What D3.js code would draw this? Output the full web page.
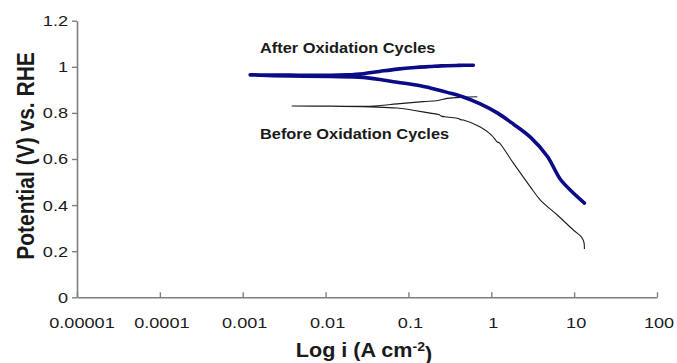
<!DOCTYPE html>
<html>
<head>
<meta charset="utf-8">
<script src="https://cdn.jsdelivr.net/npm/d3@7/dist/d3.min.js"></script>
<style>
  html, body { margin: 0; padding: 0; background: #fff; }
  svg { display: block; }
  text { font-family: "Liberation Sans", Arial, sans-serif; fill: #1a1a1a; }
</style>
</head>
<body>
<svg id="chart" width="677" height="363"></svg>
<script>
// ---- data ----
const xTickValues = [0.00001, 0.0001, 0.001, 0.01, 0.1, 1, 10, 100];
const xTickLabels = ["0.00001", "0.0001", "0.001", "0.01", "0.1", "1", "10", "100"];
const yTickValues = [0, 0.2, 0.4, 0.6, 0.8, 1, 1.2];
const yTickLabels = ["0", "0.2", "0.4", "0.6", "0.8", "1", "1.2"];

// After oxidation cycles (path order: upper branch right->left, then lower branch left->right)
const afterI = [0.607, 0.40, 0.25, 0.183, 0.12, 0.0733, 0.045, 0.0285, 0.018, 0.0114, 0.006, 0.00373, 0.002, 0.00123,
                0.0037, 0.0114, 0.0285, 0.0733, 0.139, 0.183, 0.294, 0.459, 0.736, 1.18, 1.84, 2.96, 4.74, 6.81, 9.5, 13.3];
const afterV = [1.007, 1.006, 1.004, 1.001, 0.997, 0.990, 0.980, 0.970, 0.965, 0.963, 0.963, 0.964, 0.964, 0.965,
                0.960, 0.958, 0.954, 0.933, 0.918, 0.908, 0.889, 0.869, 0.839, 0.800, 0.752, 0.695, 0.612, 0.512, 0.457, 0.409];

// Before oxidation cycles
const beforeI = [0.678, 0.45, 0.294, 0.22, 0.151, 0.0733, 0.0346, 0.0114, 0.00395,
                 0.0114, 0.0346, 0.0733, 0.183, 0.232, 0.25, 0.294, 0.40, 0.43, 0.459, 0.736, 1.0, 1.18, 1.25, 1.84, 2.96, 3.91, 6.27, 9.78, 12.2, 13.1, 13.3];
const beforeV = [0.870, 0.868, 0.863, 0.853, 0.849, 0.839, 0.829, 0.830, 0.830,
                 0.829, 0.826, 0.821, 0.799, 0.793, 0.786, 0.782, 0.776, 0.770, 0.769, 0.739, 0.705, 0.674, 0.670, 0.583, 0.479, 0.422, 0.357, 0.292, 0.262, 0.240, 0.210];

const afterLabel = "After Oxidation Cycles";
const beforeLabel = "Before Oxidation Cycles";

// ---- drawing ----
const svg = d3.select("#chart");
const SX = 1.17; // horizontal text stretch seen in the reference

const x = d3.scaleLog().domain([1e-5, 100]).range([77, 657]);
const y = d3.scaleLinear().domain([0, 1.2]).range([297.3, 20.7]);

function stretchedText(g, tx, ty, str, opts) {
  const t = g.append("text")
    .attr("transform", `translate(${tx},${ty}) scale(${opts.sx || SX},1)` + (opts.rotate ? ` rotate(${opts.rotate})` : ""))
    .attr("text-anchor", opts.anchor || "start")
    .style("font-size", opts.size + "px")
    .style("font-weight", opts.bold ? "bold" : "normal");
  if (opts.dy) t.attr("dy", opts.dy);
  t.text(str);
  return t;
}

// axes
const xAxis = d3.axisBottom(x).tickValues(xTickValues).tickSizeInner(-5).tickSizeOuter(0).tickFormat("");
const yAxis = d3.axisLeft(y).tickValues(yTickValues).tickSizeInner(5).tickSizeOuter(0).tickFormat("");

const gx = svg.append("g").attr("transform", `translate(0,${y(0)})`).call(xAxis);
const gy = svg.append("g").attr("transform", `translate(${x(1e-5)},0)`).call(yAxis);
[gx, gy].forEach(g => {
  g.select(".domain").attr("stroke", "#7f7f7f").attr("stroke-width", 1.6);
  g.selectAll(".tick line").attr("stroke", "#7f7f7f").attr("stroke-width", 1.4);
});

const labels = svg.append("g");
xTickValues.forEach((v, i) => {
  stretchedText(labels, x(v) + (i === 0 ? 5 : 2), 328, xTickLabels[i], { size: 15.5, anchor: "middle" });
});
yTickValues.forEach((v, i) => {
  stretchedText(labels, 68, y(v), yTickLabels[i], { size: 15.5, anchor: "end", dy: "0.35em" });
});

// axis titles
stretchedText(labels, 34, 156, "Potential (V) vs. RHE", { size: 21, bold: true, anchor: "middle", rotate: -90 });
const xt = stretchedText(labels, 364, 357, "", { size: 20, bold: true, anchor: "middle", sx: 1.08 });
xt.append("tspan").text("Log i (A cm");
xt.append("tspan").attr("dy", "-0.5em").style("font-size", "13px").text("-2");
xt.append("tspan").attr("dy", "0.5em").text(")");

// curves
const line = d3.line().x(d => x(d[0])).y(d => y(d[1])).curve(d3.curveCatmullRom.alpha(0.5));
const beforeData = beforeI.map((v, i) => [v, beforeV[i]]);
const afterData = afterI.map((v, i) => [v, afterV[i]]);

svg.append("path").datum(beforeData).attr("d", line)
  .attr("fill", "none").attr("stroke", "#1c1c1c").attr("stroke-width", 1.1).attr("stroke-linejoin", "round");
svg.append("path").datum(afterData).attr("d", line)
  .attr("fill", "none").attr("stroke", "#0b0b88").attr("stroke-width", 3.6)
  .attr("stroke-linejoin", "round").attr("stroke-linecap", "round");

// annotations
stretchedText(labels, 260, 53, afterLabel, { size: 14, bold: true });
stretchedText(labels, 260, 139, beforeLabel, { size: 14, bold: true });
</script>
</body>
</html>
